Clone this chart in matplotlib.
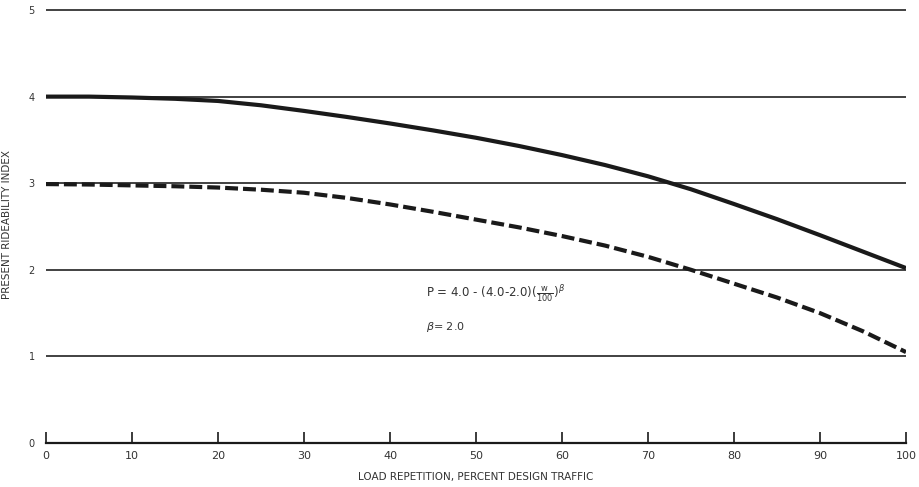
import matplotlib
matplotlib.use("Agg")
import matplotlib.pyplot as plt

x_pct = [0, 5, 10, 15, 20, 25, 30, 35, 40, 45, 50, 55, 60, 65, 70, 75, 80, 85, 90, 95, 100]
solid_p = [4.00, 4.00, 3.99, 3.975, 3.95, 3.90, 3.835, 3.765, 3.69, 3.61, 3.525, 3.43,
           3.325, 3.21, 3.08, 2.93, 2.76, 2.585, 2.40, 2.21, 2.02]
dashed_p = [2.99, 2.985, 2.975, 2.965, 2.95, 2.925, 2.89, 2.83, 2.755, 2.67, 2.58, 2.49,
            2.39, 2.28, 2.15, 2.00, 1.84, 1.68, 1.50, 1.29, 1.05]
x_ticks = [0, 10, 20, 30, 40, 50, 60, 70, 80, 90, 100]
y_ticks = [0, 1, 2, 3, 4, 5]
x_label = "LOAD REPETITION, PERCENT DESIGN TRAFFIC"
y_label = "PRESENT RIDEABILITY INDEX"

plt.rcParams['font.family'] = ['DejaVu Sans']
fig = plt.figure(figsize=(9.19, 4.87), dpi=100)
ax = fig.add_axes([46/919, 44/487, 860/919, 437.3/487])
ax.set_xlim(0, 100)
ax.set_ylim(0, 5.05)

ink = "#1a1a1a"
for yv in y_ticks[1:]:
    ax.plot([0, 100], [yv, yv], color="#333333", lw=1.3, zorder=1)

ax.plot(x_pct, solid_p, color=ink, lw=3.0, solid_capstyle="butt",
        solid_joinstyle="round", zorder=3)
ax.plot(x_pct, dashed_p, color=ink, lw=3.0, dashes=(3.1, 1.2),
        dash_capstyle="butt", zorder=3)

for s in ["top", "right", "left"]:
    ax.spines[s].set_visible(False)
ax.spines["bottom"].set_color(ink)
ax.spines["bottom"].set_linewidth(1.6)

ax.set_xticks(x_ticks)
ax.set_xticklabels([str(v) for v in x_ticks], fontsize=8, color="#333333")
ax.tick_params(axis="x", direction="in", length=8, width=1.2, color=ink, pad=6)
ax.set_yticks(y_ticks)
ax.set_yticklabels([str(v) for v in y_ticks], fontsize=7, color="#333333")
ax.tick_params(axis="y", length=0, pad=8)

ax.set_xlabel(x_label, fontsize=7.5, color="#333333", labelpad=8)
ax.set_ylabel(y_label, fontsize=7.5, color="#333333")
ax.yaxis.set_label_coords(-34/860, 0.5)

ax.text(44.2, 1.72, r"P = 4.0 - (4.0-2.0)$(\frac{\mathrm{w}}{100})^{\beta}$",
        fontsize=8.5, color="#333333", va="center", ha="left")
ax.text(44.2, 1.34, r"$\beta$= 2.0", fontsize=8, color="#333333", va="center", ha="left")

fig.savefig("out.png", dpi=100, facecolor="white")
